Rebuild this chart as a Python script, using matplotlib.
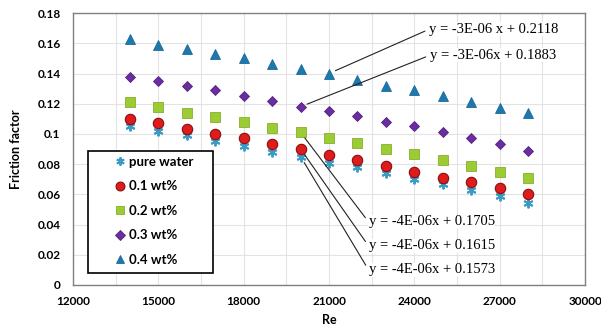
import matplotlib
matplotlib.use("Agg")
import matplotlib.pyplot as plt
from matplotlib.patches import Rectangle
from matplotlib.ticker import MultipleLocator, FuncFormatter

plt.rcParams["font.family"] = ["Lato", "DejaVu Sans"]

# Reynolds numbers
re_vals = [14000, 15000, 16000, 17000, 18000, 19000, 20000, 21000,
           22000, 23000, 24000, 25000, 26000, 27000, 28000]

# friction factor per concentration
f_water = [0.105, 0.102, 0.099, 0.095, 0.092, 0.088, 0.085, 0.081,
           0.078, 0.074, 0.070, 0.067, 0.063, 0.059, 0.054]
f_01 = [0.110, 0.107, 0.103, 0.100, 0.097, 0.093, 0.090, 0.086,
        0.083, 0.079, 0.075, 0.071, 0.068, 0.064, 0.060]
f_02 = [0.121, 0.118, 0.114, 0.111, 0.108, 0.104, 0.101, 0.097,
        0.094, 0.090, 0.087, 0.083, 0.079, 0.075, 0.071]
f_03 = [0.138, 0.135, 0.132, 0.129, 0.125, 0.122, 0.118, 0.115,
        0.112, 0.108, 0.105, 0.101, 0.097, 0.093, 0.089]
f_04 = [0.163, 0.159, 0.156, 0.153, 0.150, 0.146, 0.143, 0.140,
        0.136, 0.132, 0.129, 0.125, 0.121, 0.117, 0.114]

labels = ["pure water", "0.1 wt%", "0.2 wt%", "0.3 wt%", "0.4 wt%"]
fits = ["y = -3E-06 x + 0.2118", "y = -3E-06x + 0.1883",
        "y = -4E-06x + 0.1705", "y = -4E-06x + 0.1615", "y = -4E-06x + 0.1573"]

fig = plt.figure(figsize=(6.01, 3.36), dpi=100)
ax = fig.add_axes([0.1215, 0.152, 0.852, 0.809])

ax.plot(re_vals, f_water, ls="none", marker=(6, 2, 0), ms=7, mew=1.4,
        color="#3a9cc4", label=labels[0], zorder=3)
ax.plot(re_vals, f_01, ls="none", marker="o", ms=7.5, mfc="#e01b1b",
        mec="#8a0e0e", mew=0.8, label=labels[1], zorder=4)
ax.plot(re_vals, f_02, ls="none", marker="s", ms=6.5, mfc="#9ccc34",
        mec="#86b02a", mew=0.6, label=labels[2], zorder=3)
ax.plot(re_vals, f_03, ls="none", marker="D", ms=5.5, mfc="#6a2ea0",
        mec="#55227f", mew=0.6, label=labels[3], zorder=3)
ax.plot(re_vals, f_04, ls="none", marker="^", ms=7, mfc="#1c78ae",
        mec="#1c6a98", mew=0.6, label=labels[4], zorder=3)

ax.set_xlim(12000, 30000)
ax.set_ylim(0, 0.18)
ax.xaxis.set_major_locator(MultipleLocator(3000))
ax.xaxis.set_minor_locator(MultipleLocator(1500))
ax.yaxis.set_major_locator(MultipleLocator(0.02))
ax.yaxis.set_major_formatter(FuncFormatter(lambda v, p: "0" if v == 0 else ("%.2f" % v).rstrip("0")))
ax.grid(which="major", color="#e3e3e3", lw=0.8)
ax.grid(which="minor", axis="x", color="#e3e3e3", lw=0.8)
ax.set_axisbelow(True)
ax.tick_params(axis="y", which="both", length=0, pad=9)
ax.tick_params(axis="x", which="both", length=0, pad=8)
for lab in ax.get_xticklabels() + ax.get_yticklabels():
    lab.set_fontweight("bold")
    lab.set_fontsize(8.5)
for s in ax.spines.values():
    s.set_color("#808080")
    s.set_linewidth(1.0)

ax.set_xlabel("Re", fontweight="bold", fontsize=9, labelpad=5)
ax.set_ylabel("Friction factor", fontweight="bold", fontsize=9, labelpad=11)

# legend: box drawn separately so the entries sit inside with wide margins
box = Rectangle((0.0293, 0.044), 0.244, 0.449, transform=ax.transAxes,
                fc="white", ec="black", lw=1.2, zorder=6)
ax.add_patch(box)
leg = ax.legend(loc="upper left", bbox_to_anchor=(0.082, 0.475), frameon=False,
                handlelength=0.8, handletextpad=0.25, labelspacing=0.95,
                borderpad=0, borderaxespad=0, markerscale=0.85,
                prop={"weight": "bold", "size": 9.5})
leg.set_zorder(7)

# trend line equations
series = [f_04, f_03, f_02, f_01, f_water]
anchor_idx = [7, 6, 6, 6, 6]
text_pos = [(24530, 0.1694), (24560, 0.1522),
            (22390, 0.0417), (22390, 0.0258), (22390, 0.0099)]
for k in range(5):
    i = anchor_idx[k]
    ax.annotate(fits[k], xy=(re_vals[i], series[k][i]), xytext=text_pos[k],
                fontsize=10.5, family="Liberation Serif", ha="left", va="center",
                bbox=dict(fc="white", ec="none", pad=0.5),
                arrowprops=dict(arrowstyle="-", color="#222222", lw=0.8,
                                shrinkA=3, shrinkB=5, relpos=(0, 0.5)),
                zorder=5)

fig.savefig("out.png", dpi=100)
